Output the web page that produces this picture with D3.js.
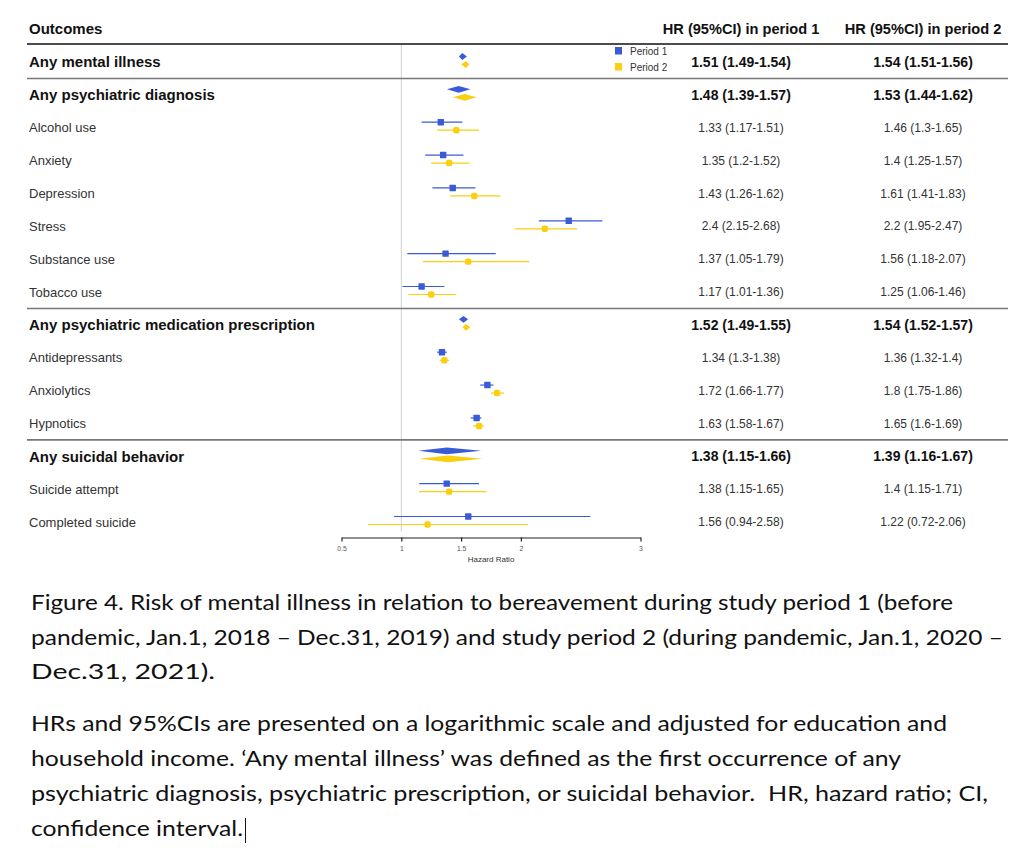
<!DOCTYPE html>
<html>
<head>
<meta charset="utf-8">
<script src="https://cdn.jsdelivr.net/npm/d3@7"></script>
<style>
  body { margin: 0; background: #fff; }
  svg { display: block; }
  .cap { white-space: pre; }
</style>
</head>
<body>
<svg id="chart"></svg>
<script>
// chart data
const outcomes = [
  'Any mental illness', 'Any psychiatric diagnosis', 'Alcohol use', 'Anxiety',
  'Depression', 'Stress', 'Substance use', 'Tobacco use',
  'Any psychiatric medication prescription', 'Antidepressants', 'Anxiolytics',
  'Hypnotics', 'Any suicidal behavior', 'Suicide attempt', 'Completed suicide'
];
const summaryRow = [true, true, false, false, false, false, false, false,
  true, false, false, false, true, false, false];
const hr1 = [1.51, 1.48, 1.33, 1.35, 1.43, 2.4, 1.37, 1.17, 1.52, 1.34, 1.72, 1.63, 1.38, 1.38, 1.56];
const lo1 = [1.49, 1.39, 1.17, 1.2, 1.26, 2.15, 1.05, 1.01, 1.49, 1.3, 1.66, 1.58, 1.15, 1.15, 0.94];
const hi1 = [1.54, 1.57, 1.51, 1.52, 1.62, 2.68, 1.79, 1.36, 1.55, 1.38, 1.77, 1.67, 1.66, 1.65, 2.58];
const hr2 = [1.54, 1.53, 1.46, 1.4, 1.61, 2.2, 1.56, 1.25, 1.54, 1.36, 1.8, 1.65, 1.39, 1.4, 1.22];
const lo2 = [1.51, 1.44, 1.3, 1.25, 1.41, 1.95, 1.18, 1.06, 1.52, 1.32, 1.75, 1.6, 1.16, 1.15, 0.72];
const hi2 = [1.56, 1.62, 1.65, 1.57, 1.83, 2.47, 2.07, 1.46, 1.57, 1.4, 1.86, 1.69, 1.67, 1.71, 2.06];
const groupBreaks = [0, 7, 11]; // separator drawn after these rows
const xTicks = [0.5, 1, 1.5, 2, 3];
const periods = ['Period 1', 'Period 2'];

const caption1 = [
  'Figure 4. Risk of mental illness in relation to bereavement during study period 1 (before',
  'pandemic, Jan.1, 2018 \u2013 Dec.31, 2019) and study period 2 (during pandemic, Jan.1, 2020 \u2013',
  'Dec.31, 2021).'
];
const caption2 = [
  'HRs and 95%CIs are presented on a logarithmic scale and adjusted for education and',
  'household income. \u2018Any mental illness\u2019 was defined as the first occurrence of any',
  'psychiatric diagnosis, psychiatric prescription, or suicidal behavior.  HR, hazard ratio; CI,',
  'confidence interval.'
];
const caption1Widths = [922, 972, 184];
const caption2Widths = [916, 870, 957, 212];

const width = 1024, height = 851;
const blue = '#3a5bd6', yellow = '#f9cf0f';

const svg = d3.select('#chart').attr('width', width).attr('height', height);
svg.append('rect').attr('width', width).attr('height', height).attr('fill', '#fff');

const font = 'Liberation Sans, Arial, sans-serif';
const x = d3.scaleLinear().domain([0.5, 3]).range([341.5, 640.5]);
const y = d3.scaleLinear().domain([0, 14]).range([62, 522]);
const col1 = 741, col2 = 923;
const lineLeft = 27, lineRight = 1008;
const axisY = 537.5;

// header
svg.append('text').attr('x', 29).attr('y', 29).attr('dy', '0.35em')
  .attr('font-family', font).attr('font-size', 15).attr('font-weight', 'bold')
  .attr('fill', '#111').text('Outcomes');
[['HR (95%CI) in period 1', col1], ['HR (95%CI) in period 2', col2]].forEach(([t, cx]) => {
  svg.append('text').attr('x', cx).attr('y', 29).attr('dy', '0.35em')
    .attr('text-anchor', 'middle')
    .attr('font-family', font).attr('font-size', 14.6).attr('font-weight', 'bold')
    .attr('fill', '#111').text(t);
});

// reference line at HR = 1
svg.append('line')
  .attr('x1', x(1)).attr('x2', x(1)).attr('y1', 44).attr('y2', axisY - 6)
  .attr('stroke', '#cfcfcf').attr('stroke-width', 1);

// header rule and group separators
svg.append('line').attr('x1', lineLeft).attr('x2', lineRight).attr('y1', 44).attr('y2', 44)
  .attr('stroke', '#111').attr('stroke-width', 1.6);
svg.selectAll('line.sep').data(groupBreaks).join('line')
  .attr('class', 'sep')
  .attr('x1', lineLeft).attr('x2', lineRight)
  .attr('y1', d => (y(d) + y(d + 1)) / 2).attr('y2', d => (y(d) + y(d + 1)) / 2)
  .attr('stroke', '#777').attr('stroke-width', 1.6);

// labels and values
const rows = outcomes.map((name, i) => ({
  name, i, summary: summaryRow[i],
  p: [
    { hr: hr1[i], lo: lo1[i], hi: hi1[i] },
    { hr: hr2[i], lo: lo2[i], hi: hi2[i] }
  ]
}));

const rowG = svg.selectAll('g.row').data(rows).join('g').attr('class', 'row');

rowG.append('text')
  .attr('x', 29).attr('y', d => y(d.i)).attr('dy', '0.35em')
  .attr('font-family', font)
  .attr('font-size', d => d.summary ? 15 : 13)
  .attr('font-weight', d => d.summary ? 'bold' : 'normal')
  .attr('fill', d => d.summary ? '#111' : '#333')
  .text(d => d.name);

[col1, col2].forEach((cx, k) => {
  rowG.append('text')
    .attr('x', cx).attr('y', d => y(d.i)).attr('dy', '0.35em')
    .attr('text-anchor', 'middle')
    .attr('font-family', font)
    .attr('font-size', d => d.summary ? 14 : 12)
    .attr('font-weight', d => d.summary ? 'bold' : 'normal')
    .attr('fill', d => d.summary ? '#111' : '#333')
    .text(d => `${d.p[k].hr} (${d.p[k].lo}-${d.p[k].hi})`);
});

// estimates
const offsets = [-5.5, 2.5];
const colors = [blue, yellow];
[0, 1].forEach(k => {
  const yy = d => y(d.i) + offsets[k];
  // CI lines for non-summary rows
  rowG.filter(d => !d.summary).append('line')
    .attr('x1', d => x(d.p[k].lo)).attr('x2', d => x(d.p[k].hi))
    .attr('y1', yy).attr('y2', yy)
    .attr('stroke', colors[k]).attr('stroke-width', 1.2);
  rowG.filter(d => !d.summary).append('rect')
    .attr('x', d => x(d.p[k].hr) - 3.2).attr('y', d => yy(d) - 3.2)
    .attr('width', 6.4).attr('height', 6.4)
    .attr('rx', k === 1 ? 2.2 : 0.6)
    .attr('fill', colors[k]);
  // diamonds for summary rows
  rowG.filter(d => d.summary).append('path')
    .attr('d', d => {
      const c = yy(d), h = 3.4;
      return `M${x(d.p[k].lo) - 1},${c}L${x(d.p[k].hr)},${c - h}L${x(d.p[k].hi) + 1},${c}L${x(d.p[k].hr)},${c + h}Z`;
    })
    .attr('fill', colors[k]);
});

// legend
const legend = svg.append('g');
periods.forEach((p, k) => {
  legend.append('rect').attr('x', 615).attr('y', 47 + k * 16)
    .attr('width', 7).attr('height', 7.5).attr('fill', colors[k]);
  legend.append('text').attr('x', 630).attr('y', 51 + k * 16).attr('dy', '0.35em')
    .attr('font-family', font).attr('font-size', 10).attr('fill', '#333').text(p);
});

// x axis
const axis = d3.axisBottom(x).tickValues(xTicks).tickSize(4).tickSizeOuter(0)
  .tickFormat(d3.format('~g'));
const axG = svg.append('g').attr('transform', `translate(0,${axisY})`).call(axis);
axG.select('.domain').attr('stroke', '#222').attr('stroke-width', 1.2);
axG.selectAll('.tick line').attr('stroke', '#222').attr('stroke-width', 1.2);
axG.selectAll('.tick text').attr('font-family', font).attr('font-size', 6.8)
  .attr('fill', '#555').attr('dy', '1em');
svg.append('text').attr('x', (x(0.5) + x(3)) / 2).attr('y', 559).attr('dy', '0.35em')
  .attr('text-anchor', 'middle').attr('font-family', font).attr('font-size', 8)
  .attr('fill', '#333').text('Hazard Ratio');

// caption
const capFont = 'Lato, "Open Sans", sans-serif';
function captionBlock(lines, widths, y0, step) {
  let lastEnd = 0;
  lines.forEach((t, i) => {
    svg.append('text').attr('class', 'cap').attr('x', 31).attr('y', y0 + i * step)
      .attr('font-family', capFont).attr('font-size', 21).attr('fill', '#111')
      .attr('textLength', widths[i]).attr('lengthAdjust', 'spacingAndGlyphs')
      .text(t);
    lastEnd = 31 + widths[i];
  });
  return lastEnd;
}
captionBlock(caption1, caption1Widths, 610, 34.5);
const end = captionBlock(caption2, caption2Widths, 731, 35);
// text cursor left in the screenshot
svg.append('line').attr('x1', end + 2.5).attr('x2', end + 2.5)
  .attr('y1', 818).attr('y2', 843).attr('stroke', '#111').attr('stroke-width', 1);
</script>
</body>
</html>
